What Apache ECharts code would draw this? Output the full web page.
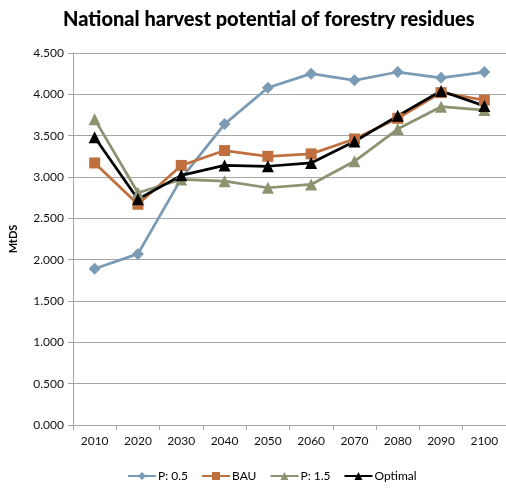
<!DOCTYPE html>
<html>
<head>
<meta charset="utf-8">
<script src="https://cdn.jsdelivr.net/npm/echarts@6/dist/echarts.min.js"></script>
<style>
  html, body { margin: 0; padding: 0; background: #fff; }
  #chart { width: 506px; height: 490px; }
</style>
</head>
<body>
<div id="chart"></div>
<script>
// Decades on the horizontal axis
const years = ['2010', '2020', '2030', '2040', '2050', '2060', '2070', '2080', '2090', '2100'];

// Harvest potential per scenario (MtDS)
const p05     = [1.89, 2.07, 2.98, 3.64, 4.08, 4.25, 4.17, 4.27, 4.20, 4.27];
const bau     = [3.17, 2.67, 3.14, 3.32, 3.25, 3.28, 3.46, 3.71, 4.02, 3.93];
const p15     = [3.70, 2.81, 2.97, 2.95, 2.87, 2.91, 3.19, 3.58, 3.85, 3.81];
const optimal = [3.48, 2.73, 3.02, 3.14, 3.13, 3.17, 3.43, 3.74, 4.04, 3.86];

const FONT = 'Lato, "Open Sans", sans-serif';

function line(name, data, color, symbol, size) {
  return {
    name: name,
    type: 'line',
    data: data,
    symbol: symbol,
    symbolSize: size,
    lineStyle: { color: color, width: 2.75 },
    itemStyle: { color: color },
    z: 3
  };
}

const chart = echarts.init(document.getElementById('chart'));
chart.setOption({
  animation: false,
  backgroundColor: '#ffffff',
  textStyle: { fontFamily: FONT },
  title: {
    text: 'National harvest potential of forestry residues',
    left: 58,
    top: 5,
    textStyle: { fontFamily: FONT, fontWeight: 900, fontSize: 20, color: '#000' }
  },
  grid: { left: 71, right: -5, top: 53, bottom: 65 },
  legend: {
    bottom: 3,
    left: 122,
    itemGap: 13,
    itemWidth: 28,
    itemHeight: 10,
    textStyle: { fontFamily: FONT, fontSize: 12, color: '#000', padding: [0, 0, 0, -3] },
    data: ['P: 0.5', 'BAU', 'P: 1.5', 'Optimal']
  },
  xAxis: {
    type: 'category',
    data: years,
    boundaryGap: true,
    axisLine: { lineStyle: { color: '#a6a6a6', width: 1 } },
    axisTick: { show: true, length: 5, lineStyle: { color: '#a6a6a6' } },
    axisLabel: { color: '#111', fontSize: 12, margin: 10, fontFamily: FONT }
  },
  yAxis: {
    type: 'value',
    min: 0,
    max: 4.5,
    interval: 0.5,
    name: 'MtDS',
    nameLocation: 'middle',
    nameGap: 54,
    nameTextStyle: { fontWeight: 'bold', fontSize: 11, color: '#000', fontFamily: FONT },
    axisLine: { show: true, lineStyle: { color: '#a6a6a6', width: 1 } },
    axisTick: { show: true, length: 5, lineStyle: { color: '#a6a6a6' } },
    splitLine: { lineStyle: { color: '#a6a6a6', width: 1 } },
    axisLabel: {
      color: '#111',
      fontSize: 12,
      margin: 9,
      fontFamily: FONT,
      formatter: v => v.toFixed(3)
    }
  },
  series: [
    line('P: 0.5', p05, '#7b9ab4', 'diamond', 12),
    line('BAU', bau, '#c0703e', 'rect', 11),
    line('P: 1.5', p15, '#8b9370', 'triangle', 12),
    line('Optimal', optimal, '#000000', 'triangle', 12)
  ]
});
</script>
</body>
</html>
